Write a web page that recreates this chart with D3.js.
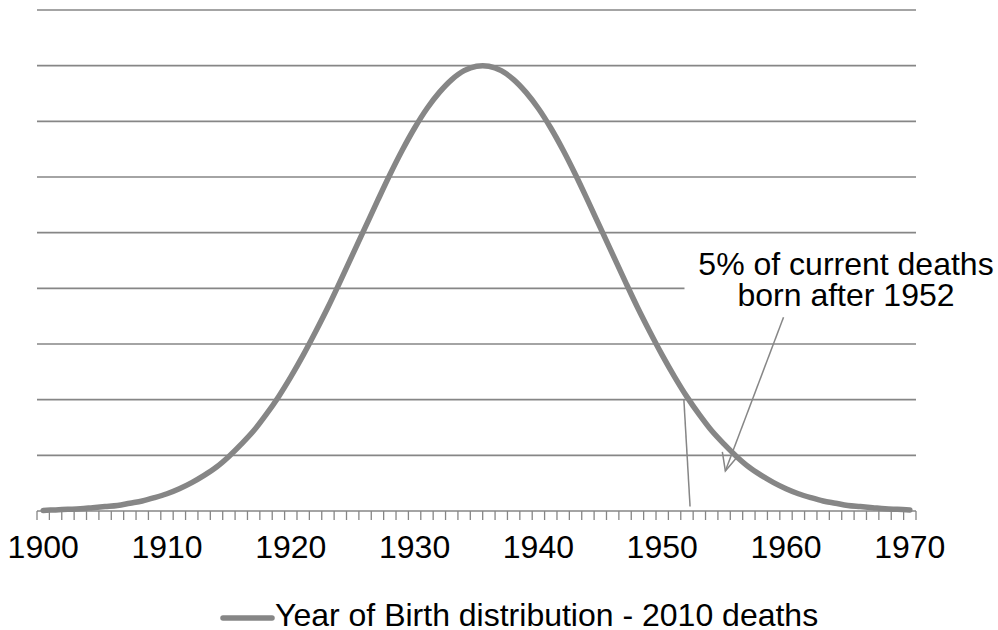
<!DOCTYPE html>
<html>
<head>
<meta charset="utf-8">
<script src="https://cdn.jsdelivr.net/npm/d3@7"></script>
<style>
  body { margin: 0; background: #fff; }
  svg text { font-family: "Liberation Sans", Arial, sans-serif; fill: #000; }
</style>
</head>
<body>
<div id="chart"></div>
<script>
// years of birth, 1900..1970
const years = d3.range(1900, 1971);
// share of 2010 deaths by year of birth (grid units)
const births = [
  0.01, 0.02, 0.03, 0.04, 0.06, 0.08, 0.10, 0.14, 0.18, 0.24,
  0.31, 0.40, 0.51, 0.64, 0.79, 0.98, 1.20, 1.44, 1.73, 2.05,
  2.41, 2.80, 3.22, 3.66, 4.13, 4.61, 5.09, 5.57, 6.04, 6.48,
  6.88, 7.23, 7.52, 7.75, 7.91, 7.99, 7.99, 7.91, 7.75, 7.52,
  7.23, 6.88, 6.48, 6.04, 5.57, 5.09, 4.61, 4.13, 3.66, 3.22,
  2.80, 2.41, 2.05, 1.73, 1.44, 1.20, 0.98, 0.79, 0.64, 0.51,
  0.40, 0.31, 0.24, 0.18, 0.14, 0.10, 0.08, 0.06, 0.04, 0.03, 0.02
];
const tickLabels = ["1900", "1910", "1920", "1930", "1940", "1950", "1960", "1970"];
const gridValues = [1, 2, 3, 4, 5, 6, 7, 8, 9];
const seriesName = "Year of Birth distribution - 2010 deaths";
const noteLines = ["5% of current deaths", "born after 1952"];

const width = 998, height = 630;
const grey = "#868686";

const x = d3.scaleBand().domain(years).range([37, 916]).padding(0);
const xl = d3.scaleLinear().domain([1899.5, 1970.5]).range([37, 916]);
const y = d3.scaleLinear().domain([0, 9]).range([511, 10]);

const svg = d3.create("svg").attr("width", width).attr("height", height);

// gridlines
svg.append("g")
  .selectAll("line")
  .data(gridValues)
  .join("line")
  .attr("x1", xl.range()[0]).attr("x2", xl.range()[1])
  .attr("y1", d => y(d)).attr("y2", d => y(d))
  .attr("stroke", grey).attr("stroke-width", 1.6);

// annotation box hides part of a gridline
svg.append("rect")
  .attr("x", xl(1951.8)).attr("y", y(4.9))
  .attr("width", width - xl(1951.8)).attr("height", y(3.55) - y(4.9))
  .attr("fill", "#fff");

// x axis line + ticks
const axis = svg.append("g");
axis.append("line")
  .attr("x1", xl.range()[0]).attr("x2", xl.range()[1])
  .attr("y1", y(0)).attr("y2", y(0))
  .attr("stroke", grey).attr("stroke-width", 1.6);
axis.selectAll("line.tick")
  .data(d3.range(1899.5, 1971))
  .join("line")
  .attr("class", "tick")
  .attr("x1", d => xl(d)).attr("x2", d => xl(d))
  .attr("y1", y(0)).attr("y2", y(0) + 9)
  .attr("stroke", grey).attr("stroke-width", 1.3);
axis.selectAll("text")
  .data(tickLabels)
  .join("text")
  .attr("x", d => x(+d) + x.bandwidth() / 2)
  .attr("y", 558)
  .attr("text-anchor", "middle")
  .attr("font-size", 32)
  .text(d => d);

// the curve
const data = years.map((yr, i) => ({ year: yr, value: births[i] }));
const line = d3.line()
  .x(d => x(d.year) + x.bandwidth() / 2)
  .y(d => y(d.value))
  .curve(d3.curveCatmullRom);
svg.append("path")
  .datum(data)
  .attr("d", line)
  .attr("fill", "none")
  .attr("stroke", grey)
  .attr("stroke-width", 5.5)
  .attr("stroke-linecap", "round");

// annotation: drop line at 1952 and arrow to the tail
const ann = svg.append("g").attr("stroke", grey).attr("stroke-width", 1.5).attr("fill", "none");
ann.append("line")
  .attr("x1", xl(1951.75)).attr("y1", y(2.0))
  .attr("x2", xl(1952.25)).attr("y2", y(0.08));
const tip = [xl(1955.1), y(0.72)];
ann.append("line")
  .attr("x1", xl(1959.8)).attr("y1", y(3.48))
  .attr("x2", tip[0]).attr("y2", tip[1]);
ann.append("path")
  .attr("d", `M${tip[0] - 3},${tip[1] - 19} L${tip[0]},${tip[1]} L${tip[0] + 11},${tip[1] - 13}`);

const note = svg.append("g").attr("font-size", 32).attr("text-anchor", "middle");
note.selectAll("text")
  .data(noteLines)
  .join("text")
  .attr("x", 846)
  .attr("y", (d, i) => 275 + i * 31)
  .text(d => d);

// legend
const legend = svg.append("g");
legend.append("line")
  .attr("x1", 223).attr("x2", 272)
  .attr("y1", 618).attr("y2", 618)
  .attr("stroke", grey).attr("stroke-width", 5.5).attr("stroke-linecap", "round");
legend.append("text")
  .attr("x", 275).attr("y", 626)
  .attr("font-size", 32)
  .text(seriesName);

d3.select("#chart").node().appendChild(svg.node());
</script>
</body>
</html>
